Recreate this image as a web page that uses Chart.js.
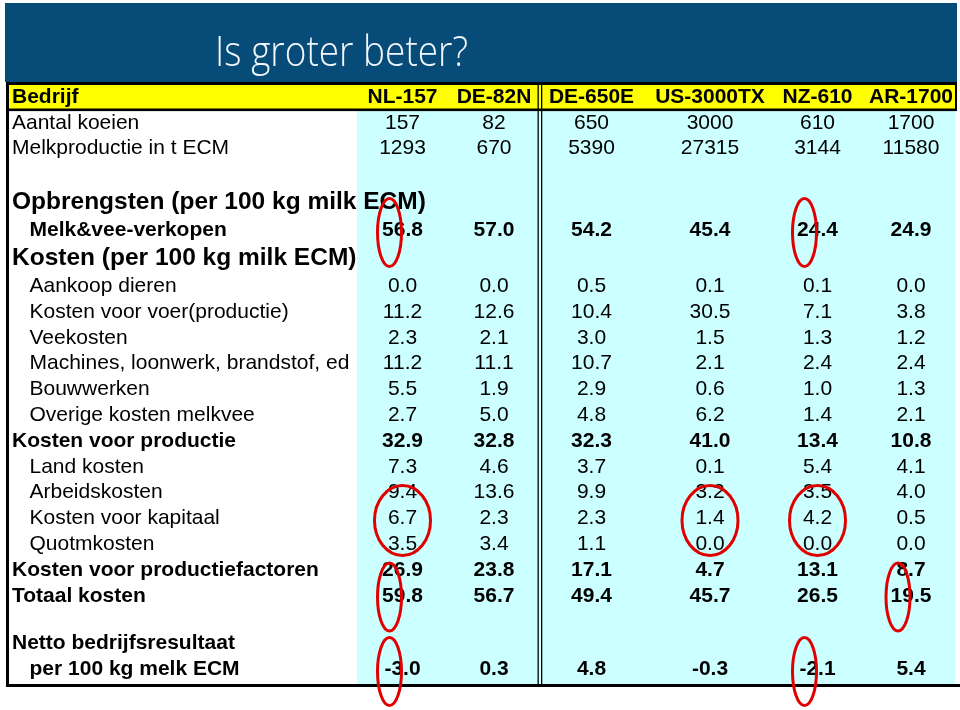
<!DOCTYPE html>
<html>
<head>
<meta charset="utf-8">
<script src="https://cdn.jsdelivr.net/npm/chart.js@4.4.1/dist/chart.umd.min.js"></script>
<style>
  html, body { margin: 0; padding: 0; background: #fff; }
</style>
</head>
<body>
<canvas id="table" width="960" height="710"></canvas>
<script>
const TITLE = 'Is groter beter?';

const COMPANIES = ['NL-157', 'DE-82N', 'DE-650E', 'US-3000TX', 'NZ-610', 'AR-1700'];

const ROW_LABELS = [
  'Bedrijf',
  'Aantal koeien',
  'Melkproductie in t ECM',
  '',
  'Opbrengsten (per 100 kg milk ECM)',
  'Melk&vee-verkopen',
  'Kosten (per 100 kg milk ECM)',
  'Aankoop dieren',
  'Kosten voor voer(productie)',
  'Veekosten',
  'Machines, loonwerk, brandstof, ed',
  'Bouwwerken',
  'Overige kosten melkvee',
  'Kosten voor productie',
  'Land kosten',
  'Arbeidskosten',
  'Kosten voor kapitaal',
  'Quotmkosten',
  'Kosten voor productiefactoren',
  'Totaal kosten',
  '',
  'Netto bedrijfsresultaat',
  'per 100 kg melk ECM',
];

const ROW_KIND = [
  'head', 'plain', 'plain', 'gap', 'title', 'subBold', 'title',
  'sub', 'sub', 'sub', 'sub', 'sub', 'sub', 'bold',
  'sub', 'sub', 'sub', 'sub', 'bold', 'bold', 'gapS', 'bold', 'subBold',
];

// rows that carry a value in every company column (in order)
const VALUE_ROWS = [1, 2, 5, 7, 8, 9, 10, 11, 12, 13, 14, 15, 16, 17, 18, 19, 22];
const INTEGER_ROWS = [1, 2];

const NL_157 = [157, 1293, 56.8, 0.0, 11.2, 2.3, 11.2, 5.5, 2.7, 32.9, 7.3, 9.4, 6.7, 3.5, 26.9, 59.8, -3.0];
const DE_82N = [82, 670, 57.0, 0.0, 12.6, 2.1, 11.1, 1.9, 5.0, 32.8, 4.6, 13.6, 2.3, 3.4, 23.8, 56.7, 0.3];
const DE_650E = [650, 5390, 54.2, 0.5, 10.4, 3.0, 10.7, 2.9, 4.8, 32.3, 3.7, 9.9, 2.3, 1.1, 17.1, 49.4, 4.8];
const US_3000TX = [3000, 27315, 45.4, 0.1, 30.5, 1.5, 2.1, 0.6, 6.2, 41.0, 0.1, 3.2, 1.4, 0.0, 4.7, 45.7, -0.3];
const NZ_610 = [610, 3144, 24.4, 0.1, 7.1, 1.3, 2.4, 1.0, 1.4, 13.4, 5.4, 3.5, 4.2, 0.0, 13.1, 26.5, -2.1];
const AR_1700 = [1700, 11580, 24.9, 0.0, 3.8, 1.2, 2.4, 1.3, 2.1, 10.8, 4.1, 4.0, 0.5, 0.0, 8.7, 19.5, 5.4];

const SERIES = [NL_157, DE_82N, DE_650E, US_3000TX, NZ_610, AR_1700];

// red circles drawn over the table: company column + first/last row
const HIGHLIGHTS = [
  { col: 0, rows: [5, 5], wide: false },
  { col: 4, rows: [5, 5], wide: false },
  { col: 0, rows: [15, 17], wide: true },
  { col: 3, rows: [15, 17], wide: true },
  { col: 4, rows: [15, 17], wide: true },
  { col: 0, rows: [18, 20], wide: false },
  { col: 5, rows: [18, 20], wide: false },
  { col: 0, rows: [22, 22], wide: false },
  { col: 4, rows: [22, 22], wide: false },
];

// layout
const FAMILY = '"Liberation Sans", Arial, Helvetica, sans-serif';
const KIND_STYLE = {
  head: { h: 25, size: 21, bold: true, indent: false },
  plain: { h: 25.8, size: 21, bold: false, indent: false },
  sub: { h: 25.8, size: 21, bold: false, indent: true },
  bold: { h: 25.8, size: 21, bold: true, indent: false },
  subBold: { h: 25.8, size: 21, bold: true, indent: true },
  title: { h: 30, size: 24.5, bold: true, indent: false },
  gap: { h: 26, size: 21, bold: false, indent: false },
  gapS: { h: 22, size: 21, bold: false, indent: false },
};
const LABEL_W = 345;
const COL_WIDTHS = [91, 92, 103, 134, 81, 106];
const TABLE_W = 945;

const ROW_TOP = [];
let rowAcc = 0;
ROW_KIND.forEach((k) => { ROW_TOP.push(rowAcc); rowAcc += KIND_STYLE[k].h; });
const ROW_CENTER = ROW_KIND.map((k, i) => ROW_TOP[i] + KIND_STYLE[k].h / 2);
const Y_MAX = rowAcc + 1.6;

const COL_LEFT = [];
let colAcc = LABEL_W;
COL_WIDTHS.forEach((w) => { COL_LEFT.push(colAcc); colAcc += w; });
const COL_CENTER = COL_WIDTHS.map((w, i) => COL_LEFT[i] + w / 2);

function fontFor(kind) {
  const s = KIND_STYLE[kind];
  return { family: FAMILY, size: s.size, weight: s.bold ? 'bold' : 'normal' };
}
function cssFont(kind) {
  const f = fontFor(kind);
  return `${f.weight} ${f.size}px ${f.family}`;
}
function fmt(v, row) {
  return INTEGER_ROWS.includes(row) ? String(Math.round(v)) : v.toFixed(1);
}

const datasets = COMPANIES.map((name, c) => ({
  label: name,
  data: VALUE_ROWS.map((r, k) => ({ x: COL_CENTER[c], y: ROW_CENTER[r], v: SERIES[c][k], row: r })),
  pointRadius: 0,
  pointHoverRadius: 0,
  showLine: false,
}));

const tablePlugin = {
  id: 'tableDecor',
  beforeDraw(chart) {
    const { ctx, chartArea: a, scales: { x, y } } = chart;
    const headBottom = y.getPixelForValue(ROW_TOP[1]);
    const dataLeft = x.getPixelForValue(LABEL_W);
    ctx.save();
    ctx.fillStyle = '#fff';
    ctx.fillRect(0, 0, chart.width, chart.height);
    // navy title band
    ctx.fillStyle = '#074b78';
    ctx.fillRect(a.left - 7, 3, a.right - a.left + 7, a.top - 6);
    ctx.font = `300 43px "Open Sans", ${FAMILY}`;
    const w = ctx.measureText(TITLE).width;
    ctx.translate(215, 65.5);
    ctx.scale(253 / w, 1);
    ctx.fillStyle = '#f2f7fb';
    ctx.textBaseline = 'alphabetic';
    ctx.textAlign = 'left';
    ctx.fillText(TITLE, 0, 0);
    ctx.restore();

    ctx.save();
    ctx.fillStyle = '#ffff00';
    ctx.fillRect(a.left - 3, a.top, a.right - a.left + 1, headBottom - a.top);
    ctx.fillStyle = '#ccffff';
    ctx.fillRect(dataLeft, headBottom, a.right - 2 - dataLeft, a.bottom - headBottom);
    ctx.restore();
  },
  afterDatasetsDraw(chart) {
    const { ctx, scales: { x, y } } = chart;
    ctx.save();
    ctx.fillStyle = '#000';
    ctx.textAlign = 'center';
    ctx.textBaseline = 'middle';
    // company names in the header row
    ctx.font = cssFont('head');
    COMPANIES.forEach((name, c) => {
      ctx.fillText(name, x.getPixelForValue(COL_CENTER[c]), y.getPixelForValue(ROW_CENTER[0]));
    });
    // cell values
    chart.data.datasets.forEach((ds, di) => {
      const meta = chart.getDatasetMeta(di);
      meta.data.forEach((el, i) => {
        const p = ds.data[i];
        if (p.v == null) return;
        const kind = ROW_KIND[p.row];
        ctx.font = cssFont(kind === 'sub' || kind === 'plain' ? 'plain' : 'bold');
        ctx.fillText(fmt(p.v, p.row), el.x, el.y);
      });
    });
    ctx.restore();
  },
  afterDraw(chart) {
    const { ctx, chartArea: a, scales: { x, y } } = chart;
    const headBottom = y.getPixelForValue(ROW_TOP[1]);
    const left = a.left - 6;
    ctx.save();
    ctx.fillStyle = '#000';
    ctx.fillRect(left, a.top - 3, a.right - left, 3);
    ctx.fillRect(left, a.top - 3, 3, a.bottom - a.top + 6);
    ctx.fillRect(left + 3, headBottom - 1.5, a.right - left - 3, 2.6);
    ctx.fillRect(left, a.bottom, chart.width - left, 3);
    ctx.fillRect(a.right - 2, a.top - 3, 2, headBottom - a.top + 3);
    const xd = x.getPixelForValue(COL_LEFT[2]);
    ctx.fillRect(xd - 2.5, a.top, 1.3, a.bottom - a.top);
    ctx.fillRect(xd + 1, a.top, 1.3, a.bottom - a.top);

    // red circles
    ctx.strokeStyle = '#e00000';
    ctx.lineWidth = 3;
    HIGHLIGHTS.forEach((h) => {
      const cx = x.getPixelForValue(COL_CENTER[h.col]) + (h.wide ? 0 : -13);
      const cy = (y.getPixelForValue(ROW_CENTER[h.rows[0]]) + y.getPixelForValue(ROW_CENTER[h.rows[1]])) / 2 + 2;
      ctx.beginPath();
      ctx.ellipse(cx, cy, h.wide ? 28 : 12, h.wide ? 35 : 34, 0, 0, Math.PI * 2);
      ctx.stroke();
    });
    ctx.restore();
  },
};

new Chart(document.getElementById('table'), {
  type: 'scatter',
  data: { datasets },
  options: {
    responsive: false,
    animation: false,
    events: [],
    layout: { padding: { left: 12, right: 3, top: 85, bottom: 26 } },
    plugins: {
      legend: { display: false },
      tooltip: { enabled: false },
    },
    scales: {
      x: { type: 'linear', display: false, min: 0, max: TABLE_W, bounds: 'data' },
      y: {
        type: 'linear',
        reverse: true,
        min: 0,
        max: Y_MAX,
        bounds: 'data',
        grid: { display: false },
        border: { display: false },
        afterBuildTicks: (s) => { s.ticks = ROW_CENTER.map((v) => ({ value: v })); },
        afterFit: (s) => { s.width = 0; },
        ticks: {
          autoSkip: false,
          mirror: true,
          padding: 0,
          crossAlign: 'near',
          color: '#000',
          font: (ctx) => fontFor(ROW_KIND[ctx.index] || 'plain'),
          callback: (v, i) => (KIND_STYLE[ROW_KIND[i]].indent ? '   ' : '') + ROW_LABELS[i],
        },
      },
    },
  },
  plugins: [tablePlugin],
});
</script>
</body>
</html>
